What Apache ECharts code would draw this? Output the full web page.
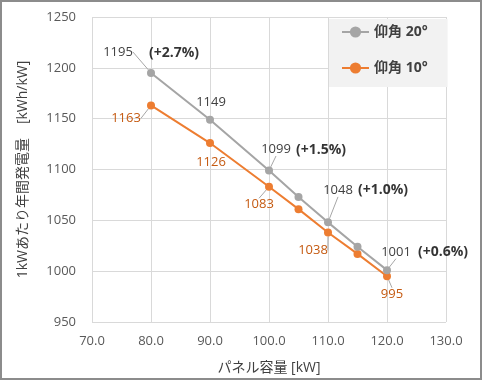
<!DOCTYPE html>
<html>
<head>
<meta charset="utf-8">
<script src="https://cdn.jsdelivr.net/npm/echarts@6/dist/echarts.min.js"></script>
<style>
html,body{margin:0;padding:0;background:#fff;}
#c{width:482px;height:380px;}
</style>
</head>
<body>
<div id="c"></div>
<script>
// ---- data ----
const panelKW = [80, 90, 100, 105, 110, 115, 120];
const elev20 = [1195, 1149, 1099, 1073, 1048, 1024, 1001];
const elev10 = [1163, 1126, 1083, 1061, 1038, 1017, 995];
const labelled = [true, true, true, false, true, false, true];
const pctText = ['(+2.7%)', '', '(+1.5%)', '', '(+1.0%)', '', '(+0.6%)'];
const seriesNames = ['仰角 20°', '仰角 10°'];
const xName = 'パネル容量 [kW]';
const yName = '1kWあたり年間発電量　[kWh/kW]';

// ---- label placement (style only) ----
const FONT = "'Open Sans','Noto Sans CJK JP',sans-serif";
const grayOff = [[-33, -21], [1, -17], [7, -21], null, [10, -32], null, [9, -18]];
const grayLeader = [true, false, true, false, true, false, true];
const orangeOff = [[-25, 13], [1, 19], [-10, 18], null, [-15, 18], null, [5, 18]];
const orangeLeader = [true, false, true, false, true, false, true];
const pctOff = [[23, -20], null, [52, -21], null, [55, -32], null, [56, -18]];

function mkData(vals, leaders) {
  return panelKW.map((x, i) => ({
    value: [x, vals[i]],
    label: { show: labelled[i] },
    labelLine: { show: leaders[i] }
  }));
}
function layoutFn(off) {
  return function (p) {
    const o = off[p.dataIndex];
    return o ? { dx: o[0], dy: o[1] } : {};
  };
}

const chart = echarts.init(document.getElementById('c'));
chart.setOption({
  animation: false,
  textStyle: { fontFamily: FONT },
  graphic: [{
    type: 'rect', silent: true, z: 100,
    shape: { x: 1, y: 1, width: 480, height: 378 },
    style: { fill: 'none', stroke: '#8c8c8c', lineWidth: 2 }
  }],
  grid: { left: 92, right: 36, top: 17, bottom: 58 },
  legend: {
    data: seriesNames,
    orient: 'vertical',
    left: 329, top: 19,
    backgroundColor: '#f2f2f2',
    padding: [6, 20, 12, 12],
    itemWidth: 27, itemHeight: 14, itemGap: 22,
    textStyle: { fontSize: 14, color: '#404040', fontWeight: 'bold', fontFamily: FONT }
  },
  xAxis: {
    type: 'value', min: 70, max: 130, interval: 10,
    name: xName, nameLocation: 'middle', nameGap: 39,
    nameTextStyle: { fontSize: 14, color: '#404040', fontFamily: FONT },
    axisLine: { show: false }, axisTick: { show: false },
    axisLabel: { formatter: v => v.toFixed(1), fontSize: 13, color: '#595959', margin: 13 },
    splitLine: { show: true, lineStyle: { color: '#d9d9d9', width: 1 } }
  },
  yAxis: {
    type: 'value', min: 950, max: 1250, interval: 50,
    name: yName, nameLocation: 'middle', nameGap: 62, nameRotate: 90,
    nameTextStyle: { fontSize: 14, color: '#404040', fontFamily: FONT },
    axisLine: { show: false }, axisTick: { show: false },
    axisLabel: { formatter: v => String(v), fontSize: 13, color: '#595959', margin: 16 },
    splitLine: { show: true, lineStyle: { color: '#d9d9d9', width: 1 } }
  },
  series: [
    {
      name: seriesNames[1], type: 'line',
      data: mkData(elev10, orangeLeader),
      symbol: 'circle', symbolSize: 8,
      itemStyle: { color: '#ed7d31' },
      lineStyle: { color: '#ed7d31', width: 2 },
      label: { show: true, position: 'inside', formatter: p => String(p.value[1]),
               fontSize: 13, color: '#c55a11' },
      labelLine: { show: true, lineStyle: { color: '#a6a6a6', width: 1 } },
      labelLayout: layoutFn(orangeOff),
      z: 2
    },
    {
      name: seriesNames[0], type: 'line',
      data: mkData(elev20, grayLeader),
      symbol: 'circle', symbolSize: 8,
      itemStyle: { color: '#a5a5a5' },
      lineStyle: { color: '#a5a5a5', width: 2 },
      label: { show: true, position: 'inside', formatter: p => String(p.value[1]),
               fontSize: 13, color: '#404040' },
      labelLine: { show: true, lineStyle: { color: '#a6a6a6', width: 1 } },
      labelLayout: layoutFn(grayOff),
      z: 3
    },
    {
      name: 'pct', type: 'scatter', silent: true,
      data: panelKW.map((x, i) => ({ value: [x, elev20[i]], label: { show: pctText[i] !== '' } })),
      symbolSize: 0,
      label: { show: true, position: 'inside', formatter: p => pctText[p.dataIndex],
               fontSize: 14, fontWeight: 'bold', color: '#000000' },
      labelLayout: layoutFn(pctOff),
      z: 4
    }
  ]
});
</script>
</body>
</html>
